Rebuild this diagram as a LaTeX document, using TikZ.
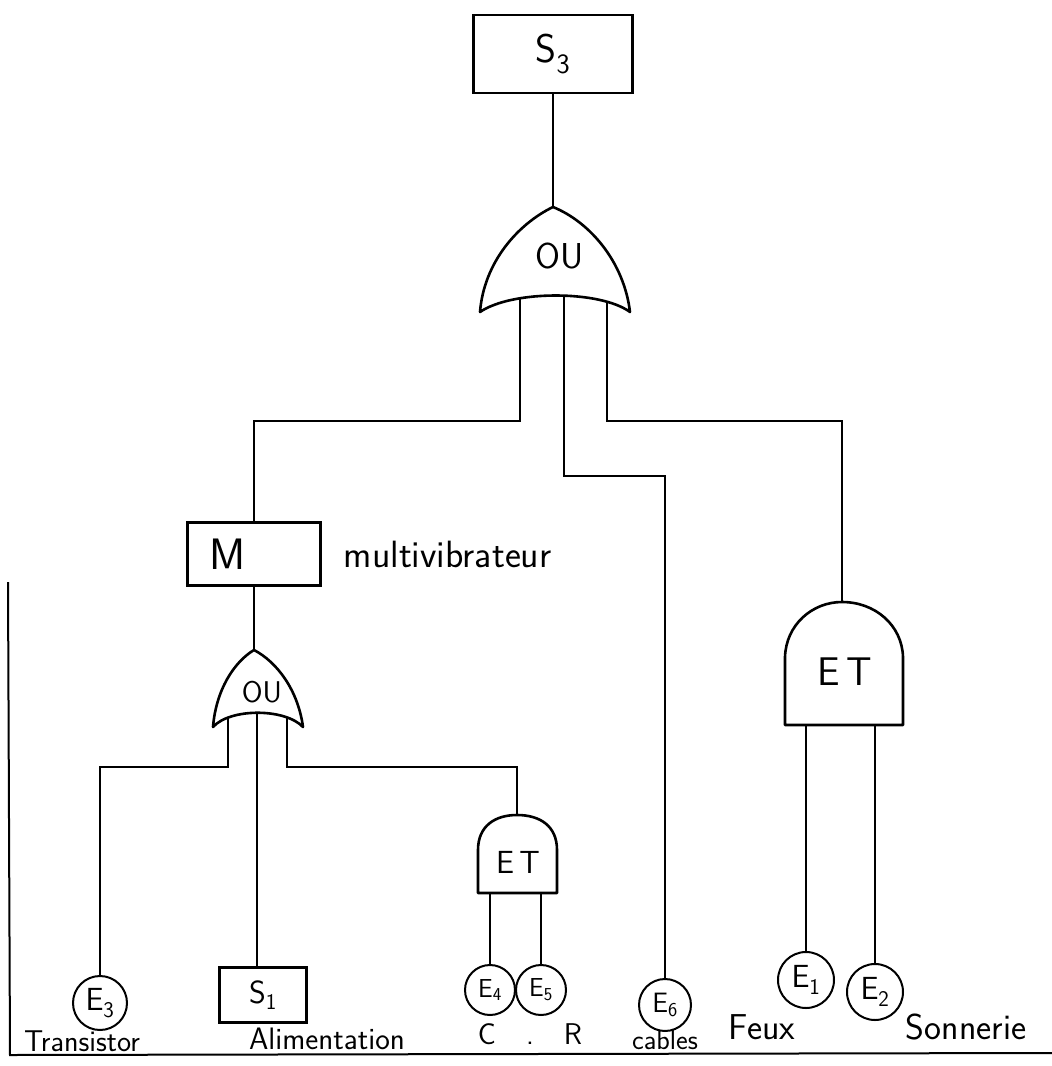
\documentclass[tikz,border=0pt]{standalone}
\usepackage{fontspec}
\usetikzlibrary{positioning}

\begin{document}
\begin{tikzpicture}[
  x=1pt, y=-1pt,
  font=\sffamily,
  wire/.style={line width=1.6pt},
  gateline/.style={line width=2.6pt, line join=round},
  box/.style={draw, line width=2.4pt, inner sep=0pt},
  event/.style={draw, circle, line width=2pt, inner sep=0pt, minimum size=#1},
  event/.default=54pt,
  lbl/.style={font=\sffamily\fontsize{#1}{#1}\selectfont, inner sep=0pt},
  lbl/.default=24
]
  \useasboundingbox (0,0) rectangle (1052,1066);

  % top event
  \node[box, lbl=40, minimum width=159pt, minimum height=78pt] (S3) at (553,54) {S\textsubscript{3}};

  % top OR gate
  \draw[gateline] (480,312) .. controls (484,262) and (518,224) .. (553,207)
    .. controls (590,222) and (624,262) .. (630,312)
    .. controls (600,290) and (512,290) .. cycle;
  \node[lbl=36] (ou1) at (560,256) {OU};
  \coordinate (ou1-out) at (553,207);
  \coordinate (ou1-in1) at (520,298);
  \coordinate (ou1-in2) at (564,296);
  \coordinate (ou1-in3) at (607,301);

  % multivibrateur
  \node[box, lbl=44, minimum width=133pt, minimum height=63pt, inner xsep=22pt,
        text width=89pt, align=left] (M) at (254,554) {M};
  \node[lbl=38, right=22pt of M] (multi) {multivibrateur};

  % small OR gate
  \draw[gateline] (213,727) .. controls (216,690) and (234,662) .. (254,650)
    .. controls (277,662) and (298,690) .. (303,727)
    .. controls (285,708) and (230,708) .. cycle;
  \node[lbl=30] (ou2) at (262,692) {OU};
  \coordinate (ou2-out) at (254,650);
  \coordinate (ou2-in1) at (228,718);
  \coordinate (ou2-in2) at (257,713);
  \coordinate (ou2-in3) at (287,718);

  % small AND gate
  \draw[gateline] (478,893) -- (478,850) .. controls (478,826) and (495,815) .. (517,815)
    .. controls (540,815) and (557,826) .. (557,850) -- (557,893) -- cycle;
  \node[lbl=32] (et1) at (518,862) {E\,T};
  \coordinate (et1-out) at (517,815);
  \coordinate (et1-in1) at (490,893);
  \coordinate (et1-in2) at (541,893);

  % big AND gate
  \draw[gateline] (785,725) -- (785,657) .. controls (786,625) and (812,602) .. (842,602)
    .. controls (875,602) and (902,625) .. (903,657) -- (903,725) -- cycle;
  \node[lbl=40] (et2) at (845,672) {E\,T};
  \coordinate (et2-out) at (842,602);
  \coordinate (et2-in1) at (806,725);
  \coordinate (et2-in2) at (875,725);

  % basic events
  \node[event, lbl=32] (E3) at (100,1003) {E\textsubscript{3}};
  \node[box, lbl=32, minimum width=87pt, minimum height=55pt] (S1) at (263,995) {S\textsubscript{1}};
  \node[event=50pt, lbl=26] (E4) at (490,990) {E\textsubscript{4}};
  \node[event=50pt, lbl=26] (E5) at (541,990) {E\textsubscript{5}};
  \node[event=52pt, lbl=28] (E6) at (665,1005) {E\textsubscript{6}};
  \node[event=56pt, lbl=32] (E1) at (806,980) {E\textsubscript{1}};
  \node[event=56pt, lbl=32] (E2) at (875,992) {E\textsubscript{2}};

  % labels
  \node[lbl=30, below=0pt of E3, xshift=-18pt] (trans) {Transistor};
  \node[lbl=31, below=4pt of S1, xshift=64pt] (alim) {Alimentation};
  \node[lbl=30] (cr) at (530,1034) {C\quad.\quad R};
  \node[lbl=28, below=-2pt of E6] (cab) {cables};
  \node[lbl=36] (feux) at (762,1027) {Feux};
  \node[lbl=36] (son) at (966,1027) {Sonnerie};

  % connectors
  \draw[wire] (S3.south) -- (ou1-out);
  \draw[wire] (ou1-in1) -- ++(0,123) -| (M.north);
  \draw[wire] (ou1-in2) -- ++(0,180) -| (E6.north);
  \draw[wire] (ou1-in3) -- ++(0,120) -| (et2-out);
  \draw[wire] (M.south) -- (ou2-out);
  \draw[wire] (ou2-in1) -- ++(0,49) -| (E3.north);
  \draw[wire] (ou2-in2) -- (ou2-in2 |- S1.north);
  \draw[wire] (ou2-in3) -- ++(0,49) -| (et1-out);
  \draw[wire] (et1-in1) -- (E4.north);
  \draw[wire] (et1-in2) -- (E5.north);
  \draw[wire] (et2-in1) -- (E1.north);
  \draw[wire] (et2-in2) -- (E2.north);

  % frame
  \draw[line width=2pt] (8,582) -- (10,1055) -- (1052,1053);
\end{tikzpicture}
\end{document}
